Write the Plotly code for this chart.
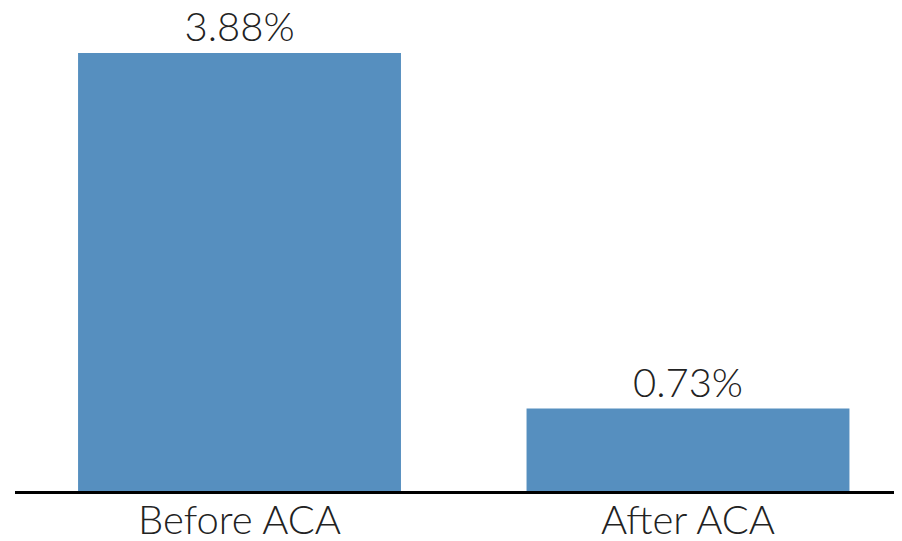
import plotly.graph_objects as go

categories = ["Before ACA", "After ACA"]
values = [3.88, 0.73]
value_labels = ["3.88%", "0.73%"]

bar_color = "#568fbf"
text_color = "#222222"
font_family = "Lato, 'Open Sans', sans-serif"

fig = go.Figure(
    go.Bar(
        x=categories,
        y=values,
        text=value_labels,
        textposition="outside",
        textfont=dict(size=40, color=text_color, family=font_family, weight=300),
        constraintext="none",
        cliponaxis=False,
        marker=dict(color=bar_color, line=dict(width=0)),
        width=0.72,
        hoverinfo="skip",
    )
)

fig.update_layout(
    width=902,
    height=541,
    margin=dict(l=7, r=0, t=0, b=58, autoexpand=False),
    paper_bgcolor="white",
    plot_bgcolor="white",
    showlegend=False,
    xaxis=dict(
        range=[-0.5006, 1.495],
        showline=True,
        linecolor="black",
        linewidth=3,
        showgrid=False,
        zeroline=False,
        ticks="",
        ticklabelstandoff=-8,
        automargin=False,
        tickfont=dict(size=40, color=text_color, family=font_family, weight=300),
    ),
    yaxis=dict(
        range=[0, 4.279],
        visible=False,
        showgrid=False,
        zeroline=False,
        automargin=False,
    ),
)

fig.write_html("out.html")
